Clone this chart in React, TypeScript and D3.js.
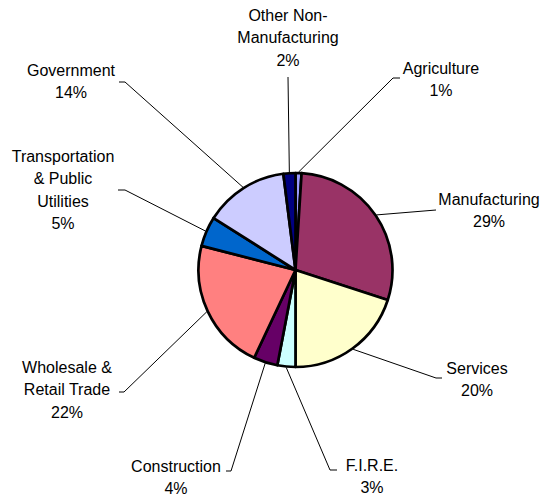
import React, { useMemo } from "react";
import * as d3 from "d3";

// ---- data ----
const categories = [
  "Agriculture",
  "Manufacturing",
  "Services",
  "F.I.R.E.",
  "Construction",
  "Wholesale & Retail Trade",
  "Transportation & Public Utilities",
  "Government",
  "Other Non-Manufacturing",
];
const shares = [1, 29, 20, 3, 4, 22, 5, 14, 2];
const labelLines = [
  ["Agriculture"],
  ["Manufacturing"],
  ["Services"],
  ["F.I.R.E."],
  ["Construction"],
  ["Wholesale &", "Retail Trade"],
  ["Transportation", "& Public", "Utilities"],
  ["Government"],
  ["Other Non-", "Manufacturing"],
];
const colors = [
  "#9999FF",
  "#993366",
  "#FFFFCC",
  "#CCFFFF",
  "#660066",
  "#FF8080",
  "#0066CC",
  "#CCCCFF",
  "#000080",
];

// ---- layout (label placement, leader elbows) ----
const W = 543;
const H = 497;
const CX = 295.5;
const CY = 270;
const R = 97;
const LINE_H = 22.3;
// text center x, first baseline y
const labelAnchor: [number, number][] = [
  [441, 74],
  [489, 205],
  [477, 374],
  [372, 471],
  [176, 472],
  [67, 373],
  [63, 162],
  [71, 76],
  [288, 21],
];
// leader: elbow point and end point (null elbow = straight)
const leaderElbow: ([number, number] | null)[] = [
  [393, 78],
  null,
  [436, 378],
  [330, 470],
  [231, 471],
  [124, 392],
  [125, 190],
  [125, 82],
  null,
];
const leaderEnd: [number, number][] = [
  [400, 78],
  [436, 210],
  [442, 378],
  [337, 470],
  [226, 471],
  [119, 392],
  [118, 190],
  [119, 82],
  [288, 77],
];

export default function App() {
  const arcs = useMemo(() => {
    const pie = d3
      .pie<number>()
      .value((d) => d)
      .sort(null)
      .startAngle(0)
      .endAngle(2 * Math.PI);
    return pie(shares);
  }, []);
  const arc = d3.arc<d3.PieArcDatum<number>>().innerRadius(0).outerRadius(R);
  const total = d3.sum(shares);
  const fmt = d3.format(".0%");

  return (
    <svg
      width={W}
      height={H}
      style={{ position: "absolute", left: 0, top: 0, background: "#fff" }}
      fontFamily="'Liberation Sans', Arial, sans-serif"
      fontSize={16}
    >
      <rect width={W} height={H} fill="#fff" />
      {/* leader lines */}
      {arcs.map((a, i) => {
        const mid = (a.startAngle + a.endAngle) / 2;
        const sx = CX + Math.sin(mid) * (R + 1);
        const sy = CY - Math.cos(mid) * (R + 1);
        const pts: [number, number][] = [[sx, sy]];
        const e = leaderElbow[i];
        if (e) pts.push(e);
        pts.push(leaderEnd[i]);
        return (
          <path
            key={"l" + i}
            d={d3.line()(pts) || ""}
            fill="none"
            stroke="#000"
            strokeWidth={1}
          />
        );
      })}
      {/* slices */}
      <g transform={`translate(${CX},${CY})`}>
        {arcs.map((a, i) => (
          <path
            key={"s" + i}
            d={arc(a) || ""}
            fill={colors[i]}
            stroke="#000"
            strokeWidth={2.7}
            strokeLinejoin="round"
          />
        ))}
      </g>
      {/* labels */}
      {arcs.map((a, i) => {
        const [x, y] = labelAnchor[i];
        const lines = [...labelLines[i], fmt(shares[i] / total)];
        return (
          <text key={"t" + i} x={x} y={y} textAnchor="middle" fill="#000">
            {lines.map((ln, j) => (
              <tspan key={j} x={x} y={y + j * LINE_H}>
                {ln}
              </tspan>
            ))}
          </text>
        );
      })}
    </svg>
  );
}
